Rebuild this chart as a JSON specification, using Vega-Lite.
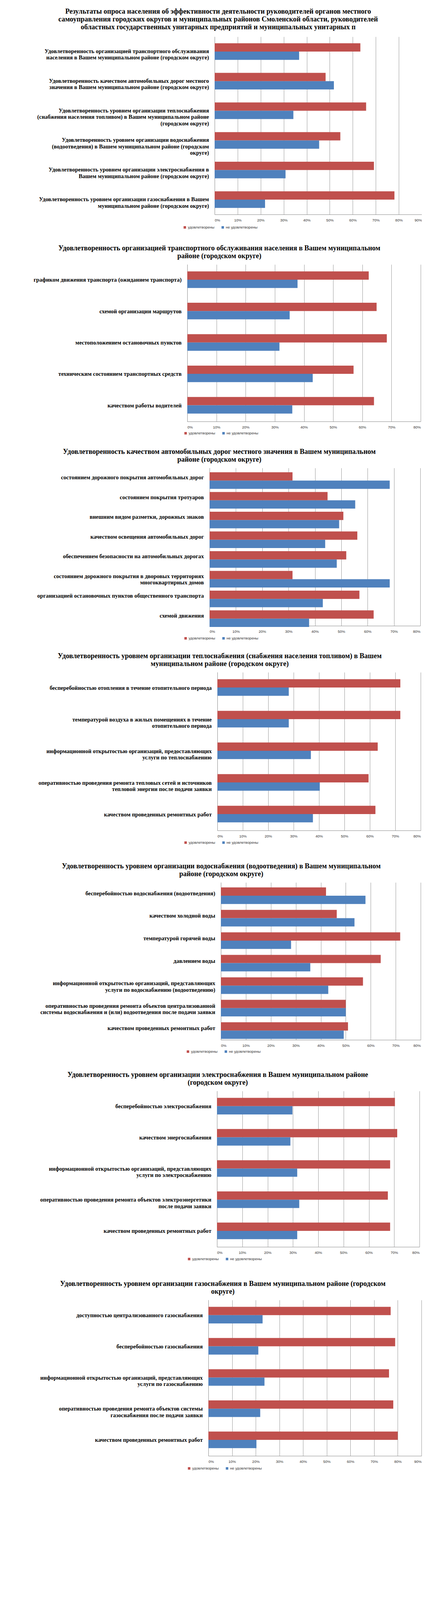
{
"$schema": "https://vega.github.io/schema/vega-lite/v6.json",
"padding": 0,
"spacing": 0,
"bounds": "full",
"background": "white",
"datasets": {
"p1": [
{"cat": "Удовлетворенность организацией транспортного обслуживания|населения в Вашем муниципальном районе (городском округе)", "series": "удовлетворены", "value": 63.3},
{"cat": "Удовлетворенность организацией транспортного обслуживания|населения в Вашем муниципальном районе (городском округе)", "series": "не удовлетворены", "value": 36.7},
{"cat": "Удовлетворенность качеством автомобильных дорог местного|значения в Вашем муниципальном районе (городском округе)", "series": "удовлетворены", "value": 48.2},
{"cat": "Удовлетворенность качеством автомобильных дорог местного|значения в Вашем муниципальном районе (городском округе)", "series": "не удовлетворены", "value": 51.8},
{"cat": "Удовлетворенность уровнем организации теплоснабжения|(снабжения населения топливом) в Вашем муниципальном районе|(городском округе)", "series": "удовлетворены", "value": 65.8},
{"cat": "Удовлетворенность уровнем организации теплоснабжения|(снабжения населения топливом) в Вашем муниципальном районе|(городском округе)", "series": "не удовлетворены", "value": 34.2},
{"cat": "Удовлетворенность уровнем организации водоснабжения|(водоотведения) в Вашем муниципальном районе (городском|округе)", "series": "удовлетворены", "value": 54.6},
{"cat": "Удовлетворенность уровнем организации водоснабжения|(водоотведения) в Вашем муниципальном районе (городском|округе)", "series": "не удовлетворены", "value": 45.4},
{"cat": "Удовлетворенность уровнем организации электроснабжения в|Вашем муниципальном районе (городском округе)", "series": "удовлетворены", "value": 69.2},
{"cat": "Удовлетворенность уровнем организации электроснабжения в|Вашем муниципальном районе (городском округе)", "series": "не удовлетворены", "value": 30.8},
{"cat": "Удовлетворенность уровнем организации газоснабжения в Вашем|муниципальном районе (городском округе)", "series": "удовлетворены", "value": 78.1},
{"cat": "Удовлетворенность уровнем организации газоснабжения в Вашем|муниципальном районе (городском округе)", "series": "не удовлетворены", "value": 21.9}
],
"p2": [
{"cat": "графиком движения транспорта (ожиданием транспорта)", "series": "удовлетворены", "value": 62.2},
{"cat": "графиком движения транспорта (ожиданием транспорта)", "series": "не удовлетворены", "value": 37.8},
{"cat": "схемой организации маршрутов", "series": "удовлетворены", "value": 64.9},
{"cat": "схемой организации маршрутов", "series": "не удовлетворены", "value": 35.1},
{"cat": "местоположением остановочных пунктов", "series": "удовлетворены", "value": 68.4},
{"cat": "местоположением остановочных пунктов", "series": "не удовлетворены", "value": 31.6},
{"cat": "техническим состоянием транспортных  средств", "series": "удовлетворены", "value": 57.0},
{"cat": "техническим состоянием транспортных  средств", "series": "не удовлетворены", "value": 43.0},
{"cat": "качеством работы водителей", "series": "удовлетворены", "value": 64.0},
{"cat": "качеством работы водителей", "series": "не удовлетворены", "value": 36.0}
],
"p3": [
{"cat": "состоянием дорожного покрытия  автомобильных дорог", "series": "удовлетворены", "value": 31.5},
{"cat": "состоянием дорожного покрытия  автомобильных дорог", "series": "не удовлетворены", "value": 68.4},
{"cat": "состоянием покрытия  тротуаров", "series": "удовлетворены", "value": 44.8},
{"cat": "состоянием покрытия  тротуаров", "series": "не удовлетворены", "value": 55.3},
{"cat": "внешним видом разметки, дорожных знаков", "series": "удовлетворены", "value": 50.8},
{"cat": "внешним видом разметки, дорожных знаков", "series": "не удовлетворены", "value": 49.2},
{"cat": "качеством освещения автомобильных дорог", "series": "удовлетворены", "value": 56.1},
{"cat": "качеством освещения автомобильных дорог", "series": "не удовлетворены", "value": 43.9},
{"cat": "обеспечением безопасности на автомобильных дорогах", "series": "удовлетворены", "value": 51.9},
{"cat": "обеспечением безопасности на автомобильных дорогах", "series": "не удовлетворены", "value": 48.3},
{"cat": "состоянием дорожного покрытия  в дворовых территориях|многоквартирных  домов", "series": "удовлетворены", "value": 31.5},
{"cat": "состоянием дорожного покрытия  в дворовых территориях|многоквартирных  домов", "series": "не удовлетворены", "value": 68.4},
{"cat": "организацией остановочных  пунктов  общественного транспорта", "series": "удовлетворены", "value": 56.9},
{"cat": "организацией остановочных  пунктов  общественного транспорта", "series": "не удовлетворены", "value": 43.0},
{"cat": "схемой движения", "series": "удовлетворены", "value": 62.3},
{"cat": "схемой движения", "series": "не удовлетворены", "value": 37.8}
],
"p4": [
{"cat": "бесперебойностью отопления в течение отопительного периода", "series": "удовлетворены", "value": 72.0},
{"cat": "бесперебойностью отопления в течение отопительного периода", "series": "не удовлетворены", "value": 28.1},
{"cat": "температурой  воздуха в жилых помещениях в течение|отопительного периода", "series": "удовлетворены", "value": 72.0},
{"cat": "температурой  воздуха в жилых помещениях в течение|отопительного периода", "series": "не удовлетворены", "value": 28.1},
{"cat": "информационной открытостью  организаций, предоставляющих|услуги по теплоснабжению", "series": "удовлетворены", "value": 63.1},
{"cat": "информационной открытостью  организаций, предоставляющих|услуги по теплоснабжению", "series": "не удовлетворены", "value": 36.8},
{"cat": "оперативностью  проведения ремонта тепловых сетей и источников|тепловой энергии после подачи заявки", "series": "удовлетворены", "value": 59.5},
{"cat": "оперативностью  проведения ремонта тепловых сетей и источников|тепловой энергии после подачи заявки", "series": "не удовлетворены", "value": 40.3},
{"cat": "качеством проведенных ремонтных  работ", "series": "удовлетворены", "value": 62.2},
{"cat": "качеством проведенных ремонтных  работ", "series": "не удовлетворены", "value": 37.6}
],
"p5": [
{"cat": "бесперебойностью водоснабжения (водоотведения)", "series": "удовлетворены", "value": 42.1},
{"cat": "бесперебойностью водоснабжения (водоотведения)", "series": "не удовлетворены", "value": 57.9},
{"cat": "качеством холодной воды", "series": "удовлетворены", "value": 46.4},
{"cat": "качеством холодной воды", "series": "не удовлетворены", "value": 53.5},
{"cat": "температурой  горячей  воды", "series": "удовлетворены", "value": 71.8},
{"cat": "температурой  горячей  воды", "series": "не удовлетворены", "value": 28.1},
{"cat": "давлением воды", "series": "удовлетворены", "value": 64.0},
{"cat": "давлением воды", "series": "не удовлетворены", "value": 35.8},
{"cat": "информационной открытостью  организаций, представляющих|услуги по водоснабжению (водоотведению)", "series": "удовлетворены", "value": 56.9},
{"cat": "информационной открытостью  организаций, представляющих|услуги по водоснабжению (водоотведению)", "series": "не удовлетворены", "value": 43.0},
{"cat": "оперативностью  проведения ремонта объектов централизованной|системы водоснабжения и (или) водоотведения после подачи заявки", "series": "удовлетворены", "value": 50.0},
{"cat": "оперативностью  проведения ремонта объектов централизованной|системы водоснабжения и (или) водоотведения после подачи заявки", "series": "не удовлетворены", "value": 50.0},
{"cat": "качеством проведенных ремонтных  работ", "series": "удовлетворены", "value": 50.9},
{"cat": "качеством проведенных ремонтных  работ", "series": "не удовлетворены", "value": 49.2}
],
"p6": [
{"cat": "бесперебойностью электроснабжения", "series": "удовлетворены", "value": 70.3},
{"cat": "бесперебойностью электроснабжения", "series": "не удовлетворены", "value": 29.8},
{"cat": "качеством энергоснабжения", "series": "удовлетворены", "value": 71.2},
{"cat": "качеством энергоснабжения", "series": "не удовлетворены", "value": 29.0},
{"cat": "информационной открытостью  организаций, представляющих|услуги по электроснабжению", "series": "удовлетворены", "value": 68.4},
{"cat": "информационной открытостью  организаций, представляющих|услуги по электроснабжению", "series": "не удовлетворены", "value": 31.7},
{"cat": "оперативностью  проведения ремонта  объектов  электроэнергетики|после подачи заявки", "series": "удовлетворены", "value": 67.5},
{"cat": "оперативностью  проведения ремонта  объектов  электроэнергетики|после подачи заявки", "series": "не удовлетворены", "value": 32.5},
{"cat": "качеством проведенных ремонтных  работ", "series": "удовлетворены", "value": 68.4},
{"cat": "качеством проведенных ремонтных  работ", "series": "не удовлетворены", "value": 31.7}
],
"p7": [
{"cat": "доступностью централизованного  газоснабжения", "series": "удовлетворены", "value": 77.0},
{"cat": "доступностью централизованного  газоснабжения", "series": "не удовлетворены", "value": 22.9},
{"cat": "бесперебойностью газоснабжения", "series": "удовлетворены", "value": 78.9},
{"cat": "бесперебойностью газоснабжения", "series": "не удовлетворены", "value": 21.1},
{"cat": "информационной открытостью  организаций, представляющих|услуги по газоснабжению", "series": "удовлетворены", "value": 76.3},
{"cat": "информационной открытостью  организаций, представляющих|услуги по газоснабжению", "series": "не удовлетворены", "value": 23.7},
{"cat": "оперативностью  проведения ремонта объектов системы|газоснабжения после подачи заявки", "series": "удовлетворены", "value": 78.1},
{"cat": "оперативностью  проведения ремонта объектов системы|газоснабжения после подачи заявки", "series": "не удовлетворены", "value": 21.9},
{"cat": "качеством проведенных ремонтных  работ", "series": "удовлетворены", "value": 80.0},
{"cat": "качеством проведенных ремонтных  работ", "series": "не удовлетворены", "value": 20.3}
]
},
"vconcat": [
{
"data": {"name": "p1"},
"width": 600, "height": 455,
"title": {"text": ["", "Результаты опроса населения об эффективности деятельности руководителей органов местного", "самоуправления городских округов и муниципальных районов Смоленской области, руководителей", "областных государственных унитарных предприятий и муниципальных унитарных п"], "dx": -221, "offset": 15},
"mark": {"type": "bar"},
"encoding": {
"y": {"field": "cat", "type": "nominal", "sort": null, "title": null, "scale": {"paddingInner": 0.44, "paddingOuter": 0.22}, "axis": {"offset": -70, "labelExpr": "split(datum.label, '|')"}},
"yOffset": {"field": "series", "type": "nominal", "sort": ["удовлетворены", "не удовлетворены"], "scale": {"paddingInner": 0, "paddingOuter": 0}},
"x": {"field": "value", "type": "quantitative", "title": null, "scale": {"domain": [0, 90], "nice": false, "range": [70, 600]}, "axis": {"values": [0, 10, 20, 30, 40, 50, 60, 70, 80, 90], "labelExpr": "datum.value + '%'", "minExtent": 77.6, "maxExtent": 77.6}},
"color": {"field": "series", "type": "nominal", "sort": ["удовлетворены", "не удовлетворены"], "scale": {"domain": ["удовлетворены", "не удовлетворены"], "range": ["#C0504D", "#4F81BD"]}, "legend": {"title": null, "orient": "none", "legendX": -11, "legendY": 483, "direction": "horizontal"}}
}
},
{
"data": {"name": "p2"},
"width": 597, "height": 402,
"title": {"text": ["Удовлетворенность организацией транспортного обслуживания населения в Вашем муниципальном", "районе (городском округе)"], "dx": -216.5},
"mark": {"type": "bar"},
"encoding": {
"y": {"field": "cat", "type": "nominal", "sort": null, "title": null, "scale": {"paddingInner": 0.44, "paddingOuter": 0.22}, "axis": {"minExtent": 479, "maxExtent": 479, "labelExpr": "split(datum.label, '|')"}},
"yOffset": {"field": "series", "type": "nominal", "sort": ["удовлетворены", "не удовлетворены"], "scale": {"paddingInner": 0, "paddingOuter": 0}},
"x": {"field": "value", "type": "quantitative", "title": null, "scale": {"domain": [0, 80], "nice": false, "range": [0, 597]}, "axis": {"values": [0, 10, 20, 30, 40, 50, 60, 70, 80], "labelExpr": "datum.value + '%'", "minExtent": 68.3, "maxExtent": 68.3}},
"color": {"field": "series", "type": "nominal", "sort": ["удовлетворены", "не удовлетворены"], "scale": {"domain": ["удовлетворены", "не удовлетворены"], "range": ["#C0504D", "#4F81BD"]}, "legend": {"title": null, "orient": "none", "legendX": -9, "legendY": 427, "direction": "horizontal"}}
}
},
{
"data": {"name": "p3"},
"width": 596, "height": 404,
"title": {"text": ["Удовлетворенность качеством автомобильных дорог местного значения в Вашем муниципальном", "районе (городском округе)"], "dx": -216},
"mark": {"type": "bar"},
"encoding": {
"y": {"field": "cat", "type": "nominal", "sort": null, "title": null, "scale": {"paddingInner": 0.44, "paddingOuter": 0.22}, "axis": {"offset": -57, "labelExpr": "split(datum.label, '|')"}},
"yOffset": {"field": "series", "type": "nominal", "sort": ["удовлетворены", "не удовлетворены"], "scale": {"paddingInner": 0, "paddingOuter": 0}},
"x": {"field": "value", "type": "quantitative", "title": null, "scale": {"domain": [0, 80], "nice": false, "range": [57, 596]}, "axis": {"values": [0, 10, 20, 30, 40, 50, 60, 70, 80], "labelExpr": "datum.value + '%'", "minExtent": 68.7, "maxExtent": 68.7}},
"color": {"field": "series", "type": "nominal", "sort": ["удовлетворены", "не удовлетворены"], "scale": {"domain": ["удовлетворены", "не удовлетворены"], "range": ["#C0504D", "#4F81BD"]}, "legend": {"title": null, "orient": "none", "legendX": -9, "legendY": 431, "direction": "horizontal"}}
}
},
{
"data": {"name": "p4"},
"width": 597, "height": 405,
"title": {"text": ["Удовлетворенность уровнем организации теплоснабжения (снабжения населения топливом) в Вашем", "муниципальном районе (городском округе)"], "dx": -215.5},
"mark": {"type": "bar"},
"encoding": {
"y": {"field": "cat", "type": "nominal", "sort": null, "title": null, "scale": {"paddingInner": 0.44, "paddingOuter": 0.22}, "axis": {"offset": -77, "labelExpr": "split(datum.label, '|')"}},
"yOffset": {"field": "series", "type": "nominal", "sort": ["удовлетворены", "не удовлетворены"], "scale": {"paddingInner": 0, "paddingOuter": 0}},
"x": {"field": "value", "type": "quantitative", "title": null, "scale": {"domain": [0, 80], "nice": false, "range": [77, 597]}, "axis": {"values": [0, 10, 20, 30, 40, 50, 60, 70, 80], "labelExpr": "datum.value + '%'", "minExtent": 83, "maxExtent": 83}},
"color": {"field": "series", "type": "nominal", "sort": ["удовлетворены", "не удовлетворены"], "scale": {"domain": ["удовлетворены", "не удовлетворены"], "range": ["#C0504D", "#4F81BD"]}, "legend": {"title": null, "orient": "none", "legendX": -9, "legendY": 431, "direction": "horizontal"}}
}
},
{
"data": {"name": "p5"},
"width": 597, "height": 403,
"title": {"text": ["Удовлетворенность уровнем организации водоснабжения (водоотведения) в Вашем муниципальном", "районе (городском округе)"], "dx": -211.5},
"mark": {"type": "bar"},
"encoding": {
"y": {"field": "cat", "type": "nominal", "sort": null, "title": null, "scale": {"paddingInner": 0.44, "paddingOuter": 0.22}, "axis": {"offset": -86, "labelExpr": "split(datum.label, '|')"}},
"yOffset": {"field": "series", "type": "nominal", "sort": ["удовлетворены", "не удовлетворены"], "scale": {"paddingInner": 0, "paddingOuter": 0}},
"x": {"field": "value", "type": "quantitative", "title": null, "scale": {"domain": [0, 80], "nice": false, "range": [86, 597]}, "axis": {"values": [0, 10, 20, 30, 40, 50, 60, 70, 80], "labelExpr": "datum.value + '%'", "minExtent": 80.3, "maxExtent": 80.3}},
"color": {"field": "series", "type": "nominal", "sort": ["удовлетворены", "не удовлетворены"], "scale": {"domain": ["удовлетворены", "не удовлетворены"], "range": ["#C0504D", "#4F81BD"]}, "legend": {"title": null, "orient": "none", "legendX": -3, "legendY": 428, "direction": "horizontal"}}
}
},
{
"data": {"name": "p6"},
"width": 594, "height": 399,
"title": {"text": ["Удовлетворенность уровнем организации электроснабжения в Вашем муниципальном районе", "(городском округе)"], "dx": -219},
"mark": {"type": "bar"},
"encoding": {
"y": {"field": "cat", "type": "nominal", "sort": null, "title": null, "scale": {"paddingInner": 0.44, "paddingOuter": 0.22}, "axis": {"offset": -76, "labelExpr": "split(datum.label, '|')"}},
"yOffset": {"field": "series", "type": "nominal", "sort": ["удовлетворены", "не удовлетворены"], "scale": {"paddingInner": 0, "paddingOuter": 0}},
"x": {"field": "value", "type": "quantitative", "title": null, "scale": {"domain": [0, 80], "nice": false, "range": [76, 594]}, "axis": {"values": [0, 10, 20, 30, 40, 50, 60, 70, 80], "labelExpr": "datum.value + '%'", "minExtent": 85.6, "maxExtent": 85.6}},
"color": {"field": "series", "type": "nominal", "sort": ["удовлетворены", "не удовлетворены"], "scale": {"domain": ["удовлетворены", "не удовлетворены"], "range": ["#C0504D", "#4F81BD"]}, "legend": {"title": null, "orient": "none", "legendX": 0, "legendY": 425, "direction": "horizontal"}}
}
},
{
"data": {"name": "p7"},
"width": 599, "height": 399,
"title": {"text": ["Удовлетворенность уровнем организации газоснабжения в Вашем муниципальном районе (городском", "округе)"], "dx": -208.5},
"mark": {"type": "bar"},
"encoding": {
"y": {"field": "cat", "type": "nominal", "sort": null, "title": null, "scale": {"paddingInner": 0.44, "paddingOuter": 0.22}, "axis": {"offset": -54, "labelExpr": "split(datum.label, '|')"}},
"yOffset": {"field": "series", "type": "nominal", "sort": ["удовлетворены", "не удовлетворены"], "scale": {"paddingInner": 0, "paddingOuter": 0}},
"x": {"field": "value", "type": "quantitative", "title": null, "scale": {"domain": [0, 90], "nice": false, "range": [54, 599]}, "axis": {"values": [0, 10, 20, 30, 40, 50, 60, 70, 80, 90], "labelExpr": "datum.value + '%'", "minExtent": 50, "maxExtent": 50}},
"color": {"field": "series", "type": "nominal", "sort": ["удовлетворены", "не удовлетворены"], "scale": {"domain": ["удовлетворены", "не удовлетворены"], "range": ["#C0504D", "#4F81BD"]}, "legend": {"title": null, "orient": "none", "legendX": 0, "legendY": 426, "direction": "horizontal"}}
}
}
],
"resolve": {"scale": {"color": "independent", "x": "independent", "y": "independent"}, "legend": {"color": "independent"}, "axis": {"x": "independent", "y": "independent"}},
"config": {
"view": {"stroke": null},
"title": {"font": "Liberation Sans Narrow", "fontSize": 18, "fontWeight": "bold", "lineHeight": 20.2, "offset": 11.5, "anchor": "middle", "frame": "group", "color": "#000000"},
"axis": {"domainColor": "#898989", "gridColor": "#9a9a9a", "ticks": false, "tickSize": 0},
"axisY": {"grid": false, "labelFont": "Liberation Serif", "labelFontSize": 14.5, "labelFontWeight": "bold", "labelColor": "#000000", "labelLimit": 800, "labelPadding": 15, "labelLineHeight": 16.5},
"axisX": {"grid": true, "labelFont": "Liberation Sans", "labelFontSize": 9.5, "labelColor": "#333333", "labelPadding": 9.5},
"legend": {"symbolType": "square", "symbolSize": 40, "labelFont": "Liberation Sans", "labelFontSize": 9.5, "labelColor": "#333333", "columnPadding": 16, "labelOffset": 3, "symbolStrokeWidth": 0}
}
}
